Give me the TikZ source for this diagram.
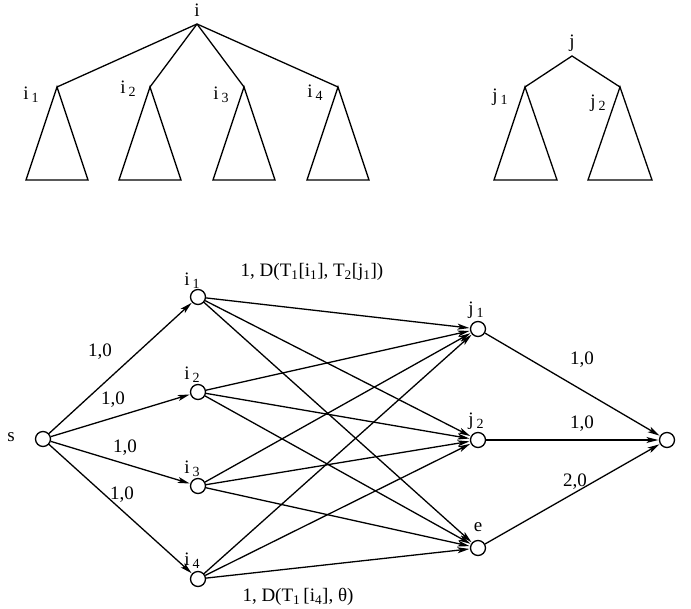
\documentclass[tikz,border=0pt]{standalone}
\usepackage{fontspec}
\setmainfont{Liberation Serif}
\usetikzlibrary{arrows.meta}
\newcommand\lowidx[1]{\kern3pt\raisebox{-3pt}{\fontsize{14}{14}\selectfont #1}}
\begin{document}
\begin{tikzpicture}[x=1pt,y=-1pt,
  line width=1.3pt,
  vtx/.style={circle,draw,line width=1.3pt,minimum size=15pt,inner sep=0pt},
  lbl/.style={font=\fontsize{19}{19}\selectfont,inner sep=0pt},
  arc/.style={-{Stealth[length=12pt,width=6pt,inset=3pt]},shorten >=0.5pt}]
\useasboundingbox (0,0) rectangle (691,609);

% ---- first tree ----
\coordinate (r) at (197,24);
\node[lbl] (rl) at (197,10) {i};
\foreach \x/\n in {57/1,150/2,244/3,338/4}{
  \coordinate (c\n) at (\x,87);
  \draw (r) -- (c\n);
  \draw (c\n) -- (\x-31,180) -- (\x+31,180) -- cycle;
}
\node[lbl] (l1) at (31,95) {i\lowidx{1}};
\node[lbl] (l2) at (128,89) {i\lowidx{2}};
\node[lbl] (l3) at (221,95) {i\lowidx{3}};
\node[lbl] (l4) at (315,93) {i\lowidx{4}};

% ---- second tree ----
\coordinate (q) at (572,56);
\node[lbl] (ql) at (572,43) {j};
\coordinate (d1) at (525,87);
\coordinate (d2) at (620,87);
\draw (d1) -- (q) -- (d2);
\draw (d1) -- (494,180) -- (557,180) -- cycle;
\draw (d2) -- (588,180) -- (652,180) -- cycle;
\node[lbl] (m1) at (500,97) {j\lowidx{1}};
\node[lbl] (m2) at (598,103) {j\lowidx{2}};

% ---- network ----
\node[vtx] (s) at (43,439) {};
\node[lbl] (sl) at (11,437) {s};
\node[vtx] (a1) at (198,297) {};
\node[vtx] (a2) at (198,392) {};
\node[vtx] (a3) at (198,486) {};
\node[vtx] (a4) at (198,579) {};
\node[vtx] (b1) at (478,329) {};
\node[vtx] (b2) at (478,440) {};
\node[vtx] (e)  at (478,548) {};
\node[vtx] (t)  at (667,440) {};

\node[lbl] at (192,281) {i\lowidx{1}};
\node[lbl] at (192,375) {i\lowidx{2}};
\node[lbl] at (192,469) {i\lowidx{3}};
\node[lbl] at (192,561) {i\lowidx{4}};
\node[lbl] at (476,310) {j\lowidx{1}};
\node[lbl] at (476,421) {j\lowidx{2}};
\node[lbl] at (478,527) {e};

\foreach \k in {1,...,4}{
  \draw[arc] (s) -- (a\k);
  \foreach \m in {b1,b2,e}{
    \draw[arc] (a\k) -- (\m);
  }
}
\draw[arc] (b1) -- (t);
\draw[arc] (b2) -- (t);
\draw[arc] (e) -- (t);

% edge labels
\node[lbl] at (100,352) {1,0};
\node[lbl] at (113,400) {1,0};
\node[lbl] at (125,448) {1,0};
\node[lbl] at (122,495) {1,0};
\node[lbl] at (582,360) {1,0};
\node[lbl] at (582,424) {1,0};
\node[lbl] at (575,482) {2,0};
\node[lbl] at (312,272) {1, D(T\textsubscript{1}[i\textsubscript{1}], T\textsubscript{2}[j\textsubscript{1}])};
\node[lbl] at (298,597) {1, D(T\textsubscript{1}\,[i\textsubscript{4}], θ)};
\end{tikzpicture}
\end{document}
